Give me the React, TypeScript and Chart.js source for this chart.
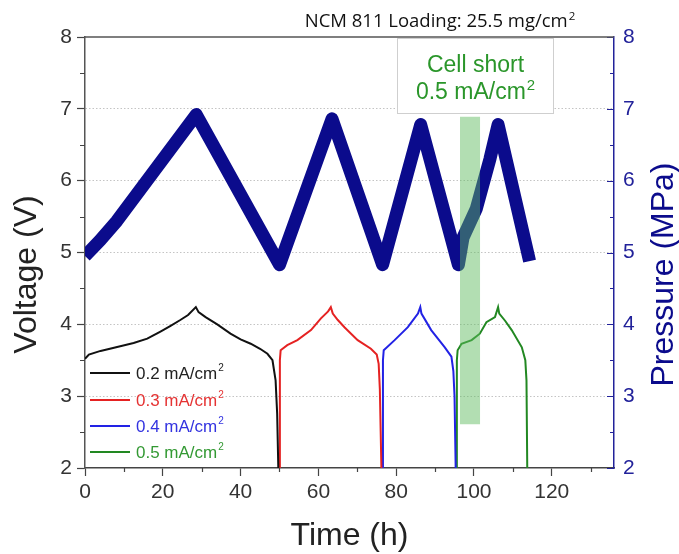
import { useEffect, useRef } from 'react';
import { Chart, registerables } from 'chart.js';
Chart.register(...registerables);

const FONT = "'Liberation Sans', Arial, sans-serif";

// ---- data ----
const xTickValues = [0, 20, 40, 60, 80, 100, 120];
const yTickValues = [2, 3, 4, 5, 6, 7, 8];
const xMinorValues = [10, 30, 50, 70, 90, 110, 130];
const yMinorValues = [2.5, 3.5, 4.5, 5.5, 6.5, 7.5];

const pressureTime = [0, 3.9, 8.2, 28.6, 50, 63.5, 76.5, 86.3, 96, 97.2, 100.6, 104.1, 106.2, 114.3];
const pressureMPa = [4.95, 5.17, 5.44, 6.92, 4.83, 6.86, 4.83, 6.78, 4.83, 5.21, 5.61, 6.3, 6.78, 4.88];

const v02Time = [0, 1, 4, 8, 12.5, 16, 19.4, 22, 24.5, 26.5, 28.5, 29.2, 31, 34, 37.4, 40, 42.6, 45, 46.9, 48.2, 49, 49.4, 49.7];
const v02Volt = [3.52, 3.58, 3.63, 3.68, 3.74, 3.8, 3.9, 3.98, 4.06, 4.13, 4.24, 4.17, 4.1, 4.0, 3.87, 3.79, 3.73, 3.66, 3.59, 3.5, 3.22, 2.76, 2.0];

const v03Time = [50.0, 50.1, 50.3, 52, 54.6, 58.1, 60.6, 62.5, 63.2, 63.7, 65, 66.7, 70.1, 73.5, 75.0, 75.5, 75.8, 76.2];
const v03Volt = [2.0, 3.5, 3.64, 3.71, 3.78, 3.92, 4.08, 4.18, 4.24, 4.15, 4.06, 3.96, 3.78, 3.66, 3.58, 3.45, 3.1, 2.0];

const v04Time = [76.5, 76.6, 76.8, 79.6, 83, 85.6, 86.2, 86.5, 89, 92.5, 94.2, 94.7, 95.0, 95.3];
const v04Volt = [2.0, 3.5, 3.64, 3.78, 3.96, 4.15, 4.24, 4.15, 3.92, 3.68, 3.55, 3.35, 3.0, 2.0];

const v05Time = [95.5, 95.6, 95.8, 96.8, 99.4, 101.5, 103.2, 105.4, 106.2, 106.5, 108, 109.7, 112.3, 113.2, 113.5, 113.7];
const v05Volt = [2.0, 3.5, 3.64, 3.73, 3.78, 3.87, 4.03, 4.10, 4.24, 4.15, 4.05, 3.92, 3.68, 3.5, 3.22, 2.0];

const legendLabels = ['0.2 mA/cm', '0.3 mA/cm', '0.4 mA/cm', '0.5 mA/cm'];
const legendSup = '2';

// short-circuit shaded region (time h, voltage V)
const shortTime = [96.4, 101.6];
const shortVolt = [2.61, 6.89];
// annotation box extents (time h, voltage V)
const boxTime = [80.3, 120.5];
const boxVolt = [6.94, 8];

const titleText = 'NCM 811 Loading: 25.5 mg/cm';
const boxLine1 = 'Cell short';
const boxLine2 = '0.5 mA/cm';

const NAVY = '#0b0b8c';
const AXIS_NAVY = '#22229a';
const lineColors = ['#111111', '#e52222', '#2222e5', '#228822'];
const textColors = ['#222222', '#e53333', '#3333e0', '#339933'];

const toXY = (xs: number[], ys: number[]) => xs.map((x, i) => ({ x, y: ys[i] }));

function drawSup(ctx: CanvasRenderingContext2D, main: string, sup: string, x: number, y: number,
  size: number, supSize: number, rise: number, family: string, align: 'left' | 'center') {
  ctx.font = `${size}px ${family}`;
  const w1 = ctx.measureText(main).width;
  ctx.font = `${supSize}px ${family}`;
  const w2 = ctx.measureText(sup).width;
  let x0 = x;
  if (align === 'center') x0 = x - (w1 + w2 + 1) / 2;
  ctx.textAlign = 'left';
  ctx.textBaseline = 'alphabetic';
  ctx.font = `${size}px ${family}`;
  ctx.fillText(main, x0, y);
  ctx.font = `${supSize}px ${family}`;
  ctx.fillText(sup, x0 + w1 + 1, y - rise);
}

const decorPlugin = {
  id: 'decor',
  afterDatasetsDraw(chart: any) {
    const { ctx, chartArea: ca, scales } = chart;
    const xs = scales.x, ys = scales.y, y2 = scales.y2;
    ctx.save();
    // minor ticks
    ctx.lineWidth = 1.2;
    ctx.strokeStyle = '#444';
    ctx.beginPath();
    yMinorValues.forEach((v) => {
      const p = Math.round(ys.getPixelForValue(v)) + 0.5;
      ctx.moveTo(ca.left, p); ctx.lineTo(ca.left - 5, p);
    });
    xMinorValues.forEach((v) => {
      const p = Math.round(xs.getPixelForValue(v)) + 0.5;
      ctx.moveTo(p, ca.bottom); ctx.lineTo(p, ca.bottom + 4);
    });
    ctx.stroke();
    // right axis inward ticks
    ctx.strokeStyle = AXIS_NAVY;
    ctx.beginPath();
    yTickValues.forEach((v) => {
      const p = Math.round(y2.getPixelForValue(v)) + 0.5;
      ctx.moveTo(ca.right, p); ctx.lineTo(ca.right - 7, p);
    });
    yMinorValues.forEach((v) => {
      const p = Math.round(y2.getPixelForValue(v)) + 0.5;
      ctx.moveTo(ca.right, p); ctx.lineTo(ca.right - 4, p);
    });
    ctx.stroke();

    // annotation box
    const bx0 = xs.getPixelForValue(boxTime[0]);
    const bx1 = xs.getPixelForValue(boxTime[1]);
    const by0 = ys.getPixelForValue(boxVolt[1]);
    const by1 = ys.getPixelForValue(boxVolt[0]);
    ctx.fillStyle = '#ffffff';
    ctx.fillRect(bx0, by0, bx1 - bx0, by1 - by0);
    ctx.strokeStyle = '#cfcfcf';
    ctx.lineWidth = 1;
    ctx.strokeRect(Math.round(bx0) + 0.5, Math.round(by0) + 1.5, Math.round(bx1 - bx0), Math.round(by1 - by0) - 1);
    ctx.fillStyle = '#2a962a';
    const bcx = (bx0 + bx1) / 2;
    ctx.font = `23px ${FONT}`;
    ctx.textAlign = 'center';
    ctx.textBaseline = 'alphabetic';
    ctx.fillText(boxLine1, bcx, by0 + 35);
    drawSup(ctx, boxLine2, legendSup, bcx, by0 + 62, 23, 15, 9, FONT, 'center');

    // top frame
    ctx.strokeStyle = '#555';
    ctx.lineWidth = 1.5;
    ctx.beginPath();
    ctx.moveTo(ca.left, ca.top); ctx.lineTo(ca.right, ca.top);
    ctx.stroke();

    // legend
    const rowOffsets = [95, 68, 42, 16];
    legendLabels.forEach((lab, i) => {
      const yy = ca.bottom - rowOffsets[i];
      ctx.strokeStyle = lineColors[i];
      ctx.lineWidth = 2;
      ctx.beginPath();
      ctx.moveTo(ca.left + 5, yy); ctx.lineTo(ca.left + 45, yy);
      ctx.stroke();
      ctx.fillStyle = textColors[i];
      drawSup(ctx, lab, legendSup, ca.left + 51, yy + 6, 17, 10, 8, FONT, 'left');
    });

    // axis titles (vertical)
    const midY = (ca.top + ca.bottom) / 2 + 22;
    ctx.font = `32px ${FONT}`;
    ctx.textAlign = 'center';
    ctx.textBaseline = 'middle';
    ctx.fillStyle = '#222';
    ctx.save();
    ctx.translate(27, midY);
    ctx.rotate(-Math.PI / 2);
    ctx.fillText('Voltage (V)', 0, 0);
    ctx.restore();
    ctx.fillStyle = NAVY;
    ctx.save();
    ctx.translate(664, midY);
    ctx.rotate(-Math.PI / 2);
    ctx.fillText('Pressure (MPa)', 0, 0);
    ctx.restore();

    // top label
    ctx.fillStyle = '#111';
    drawSup(ctx, titleText, legendSup, 440, 27, 18.5, 11.5, 7, "'Open Sans', sans-serif", 'center');
    ctx.restore();
  },
};

export default function App() {
  const ref = useRef<HTMLCanvasElement>(null);
  useEffect(() => {
    if (!ref.current) return;
    const tickFont = { family: FONT, size: 21 };
    const chart = new Chart(ref.current, {
      type: 'line',
      data: {
        datasets: [
          {
            label: 'short',
            data: toXY(shortTime, [shortVolt[1], shortVolt[1]]),
            fill: { value: shortVolt[0] },
            backgroundColor: 'rgba(95,185,95,0.48)',
            borderWidth: 0,
            pointRadius: 0,
            yAxisID: 'y',
            order: -1,
          } as any,
          {
            label: 'Pressure',
            data: toXY(pressureTime, pressureMPa),
            borderColor: NAVY,
            borderWidth: 13,
            borderJoinStyle: 'round',
            borderCapStyle: 'butt',
            pointRadius: 0,
            yAxisID: 'y2',
            clip: 0,
          } as any,
          ...[ [v02Time, v02Volt], [v03Time, v03Volt], [v04Time, v04Volt], [v05Time, v05Volt] ].map(([t, v], i) => ({
            label: legendLabels[i],
            data: toXY(t, v),
            borderColor: lineColors[i],
            borderWidth: 2,
            pointRadius: 0,
            yAxisID: 'y',
          })),
        ],
      },
      options: {
        responsive: false,
        maintainAspectRatio: false,
        devicePixelRatio: 1,
        animation: false,
        layout: { padding: { left: 0, right: 0, top: 37, bottom: 0 } },
        plugins: { legend: { display: false }, tooltip: { enabled: false } },
        scales: {
          x: {
            type: 'linear',
            min: 0,
            max: 136,
            position: 'bottom',
            afterBuildTicks: (s: any) => { s.ticks = xTickValues.map((value) => ({ value })); },
            afterFit: (s: any) => { s.height = 86; },
            ticks: { font: tickFont, color: '#333', padding: 4, maxRotation: 0, autoSkip: false },
            grid: { drawOnChartArea: false, drawTicks: true, tickLength: 8, tickColor: '#444', tickWidth: 1.2 },
            border: { color: '#444', width: 1.5 },
            title: { display: true, text: 'Time (h)', font: { family: FONT, size: 32, lineHeight: 1 }, color: '#222', padding: { top: 0, bottom: 2 } },
          },
          y: {
            type: 'linear',
            min: 2,
            max: 8,
            position: 'left',
            afterBuildTicks: (s: any) => { s.ticks = yTickValues.map((value) => ({ value })); },
            afterFit: (s: any) => { s.width = 85; },
            ticks: { font: tickFont, color: '#333', padding: 5 },
            grid: {
              drawOnChartArea: true,
              drawTicks: true,
              tickLength: 8,
              tickColor: '#444',
              tickWidth: 1.2,
              color: (c: any) => (c.tick && (c.tick.value === 2 || c.tick.value === 8) ? 'rgba(0,0,0,0)' : '#c4c4c4'),
              lineWidth: 1,
            },
            border: { color: '#555', width: 1.5, dash: [1.5, 2] },
          },
          y2: {
            type: 'linear',
            min: 2,
            max: 8,
            position: 'right',
            afterBuildTicks: (s: any) => { s.ticks = yTickValues.map((value) => ({ value })); },
            afterFit: (s: any) => { s.width = 65; },
            ticks: { font: tickFont, color: AXIS_NAVY, padding: 9 },
            grid: { drawOnChartArea: false, drawTicks: false },
            border: { color: AXIS_NAVY, width: 1.5 },
          },
        },
      },
      plugins: [decorPlugin],
    } as any);
    return () => chart.destroy();
  }, []);
  return (
    <div style={{ position: 'absolute', left: 0, top: 0 }}>
      <canvas ref={ref} width={679} height={554} style={{ display: 'block', width: 679, height: 554 }} />
    </div>
  );
}
